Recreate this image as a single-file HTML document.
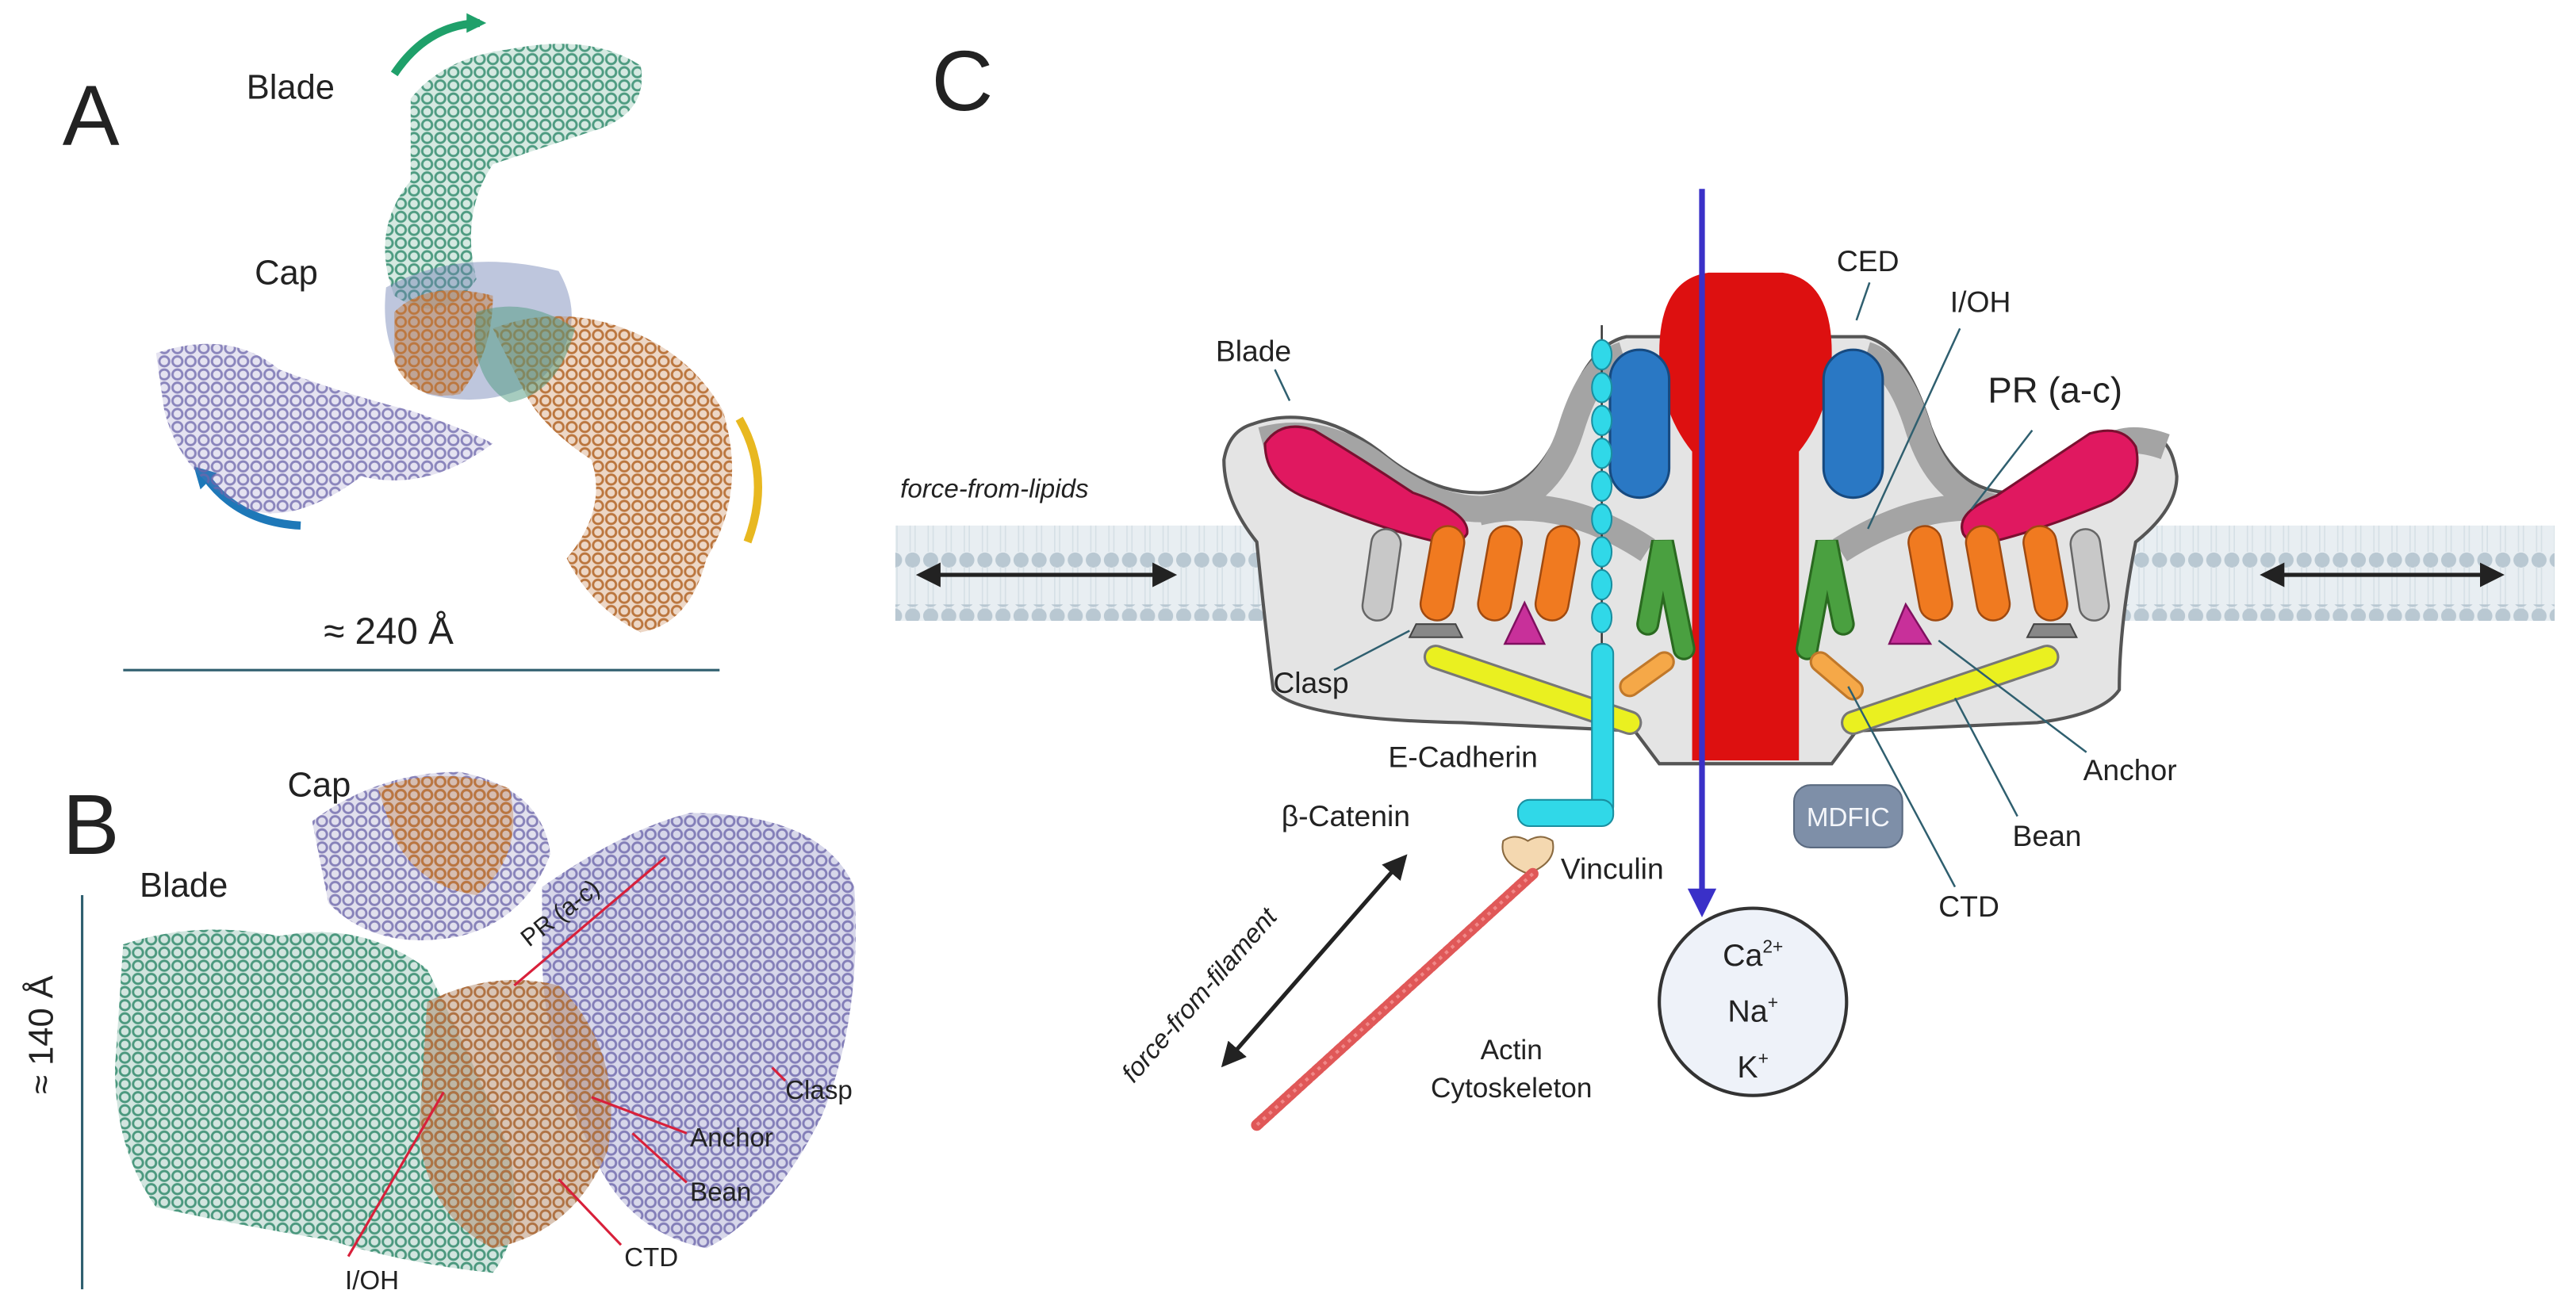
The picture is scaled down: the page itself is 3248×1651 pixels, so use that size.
<!DOCTYPE html>
<html><head><meta charset="utf-8"><style>
html,body{margin:0;padding:0;background:#fff;}
svg{display:block;}
text{font-family:"Liberation Sans",sans-serif;fill:#222;}
</style></head><body>
<svg width="3248" height="1651" viewBox="0 0 1568 797" preserveAspectRatio="none" xmlns="http://www.w3.org/2000/svg">
<defs>
<pattern id="pg" width="8" height="8" patternUnits="userSpaceOnUse"><circle cx="4" cy="4" r="3" fill="none" stroke="#1f7f5f" stroke-width="1.4"/></pattern>
<pattern id="pp" width="8" height="8" patternUnits="userSpaceOnUse"><circle cx="4" cy="4" r="3" fill="none" stroke="#6a63a8" stroke-width="1.4"/></pattern>
<pattern id="po" width="8" height="8" patternUnits="userSpaceOnUse"><circle cx="4" cy="4" r="3" fill="none" stroke="#a8520f" stroke-width="1.4"/></pattern>
<pattern id="mem" width="11" height="48" patternUnits="userSpaceOnUse"><circle cx="5.5" cy="5" r="4.6" fill="#b9c8d2"/><line x1="4" y1="9" x2="4" y2="48" stroke="#d6e0e6" stroke-width="0.8"/><line x1="7" y1="9" x2="7" y2="48" stroke="#d6e0e6" stroke-width="0.8"/></pattern>
<pattern id="mem2" width="11" height="10" patternUnits="userSpaceOnUse"><circle cx="5.5" cy="5" r="4.6" fill="#b9c8d2"/></pattern>
<marker id="ah" markerWidth="6" markerHeight="6" refX="5" refY="3" orient="auto-start-reverse" markerUnits="strokeWidth"><path d="M0,0 L6,3 L0,6 Z" fill="#222"/></marker>
<marker id="ab" markerWidth="5" markerHeight="5" refX="4" refY="2.5" orient="auto" markerUnits="strokeWidth"><path d="M0,0 L5,2.5 L0,5 Z" fill="#3a30c8"/></marker>
</defs>

<!-- PANEL A -->
<text x="38" y="88" font-size="52">A</text>
<text x="150" y="60" font-size="21">Blade</text>
<text x="155" y="173" font-size="21">Cap</text>
<path d="M240,45 Q260,15 292,14" fill="none" stroke="#1fa06a" stroke-width="5"/>
<path d="M284,8 L296,14 L284,20Z" fill="#1fa06a"/>
<path d="M183,320 Q145,318 125,290" fill="none" stroke="#1e78b8" stroke-width="5"/>
<path d="M118,284 L122,298 L132,288Z" fill="#1e78b8"/>
<path d="M450,255 Q470,290 455,330" fill="none" stroke="#e8b820" stroke-width="5"/>
<g opacity="0.8">
<path d="M250,60 Q270,35 310,30 Q360,20 390,40 Q395,70 360,80 Q330,90 300,100 Q280,130 290,170 Q270,200 240,180 Q225,140 250,110Z" fill="url(#pg)"/>
<path d="M250,60 Q270,35 310,30 Q360,20 390,40 Q395,70 360,80 Q330,90 300,100 Q280,130 290,170 Q270,200 240,180 Q225,140 250,110Z" fill="#2a8f6c" opacity="0.25"/>
<path d="M95,215 Q140,200 170,225 Q210,240 250,250 Q280,260 300,270 Q260,300 220,290 Q180,320 150,310 Q110,290 100,250Z" fill="url(#pp)"/>
<path d="M95,215 Q140,200 170,225 Q210,240 250,250 Q280,260 300,270 Q260,300 220,290 Q180,320 150,310 Q110,290 100,250Z" fill="#7a73b8" opacity="0.25"/>
<path d="M235,175 Q280,150 340,165 Q360,200 330,230 Q300,250 260,240 Q230,220 235,175Z" fill="#4c62a0" opacity="0.45"/>
<path d="M240,190 Q260,170 300,180 Q300,215 280,240 Q250,245 240,220Z" fill="url(#po)"/>
<path d="M240,190 Q260,170 300,180 Q300,215 280,240 Q250,245 240,220Z" fill="#b25a12" opacity="0.45"/>
<path d="M300,200 Q340,185 380,200 Q420,215 440,250 Q455,300 430,340 Q420,380 390,385 Q360,370 345,340 Q370,310 360,280 Q330,260 320,240Z" fill="url(#po)"/>
<path d="M300,200 Q340,185 380,200 Q420,215 440,250 Q455,300 430,340 Q420,380 390,385 Q360,370 345,340 Q370,310 360,280 Q330,260 320,240Z" fill="#b25a12" opacity="0.3"/>
<path d="M290,190 Q320,180 350,200 Q340,240 310,245 Q285,230 290,190Z" fill="#1f7f5f" opacity="0.5"/>
</g>
<text x="197" y="392" font-size="23">≈ 240 Å</text>
<line x1="75" y1="408" x2="438" y2="408" stroke="#2f5f6f" stroke-width="1.5"/>

<!-- PANEL B -->
<text x="38" y="520" font-size="52">B</text>
<text x="175" y="485" font-size="21">Cap</text>
<text x="85" y="546" font-size="21">Blade</text>
<text transform="translate(32,630) rotate(-90)" font-size="21" text-anchor="middle">≈ 140 Å</text>
<line x1="50" y1="545" x2="50" y2="785" stroke="#2f5f6f" stroke-width="1.5"/>
<g opacity="0.8">
<path d="M190,500 Q230,470 280,470 Q330,480 335,520 Q320,560 280,570 Q230,580 200,550Z" fill="url(#pp)"/>
<path d="M190,500 Q230,470 280,470 Q330,480 335,520 Q320,560 280,570 Q230,580 200,550Z" fill="#6a63a8" opacity="0.25"/>
<path d="M230,480 Q270,465 310,480 Q320,520 290,545 Q255,540 240,510Z" fill="url(#po)"/>
<path d="M230,480 Q270,465 310,480 Q320,520 290,545 Q255,540 240,510Z" fill="#b25a12" opacity="0.35"/>
<path d="M75,575 Q120,560 170,570 Q220,560 260,590 Q290,650 310,700 Q320,750 300,775 Q250,770 200,755 Q140,745 95,735 Q70,700 70,650Z" fill="url(#pg)"/>
<path d="M75,575 Q120,560 170,570 Q220,560 260,590 Q290,650 310,700 Q320,750 300,775 Q250,770 200,755 Q140,745 95,735 Q70,700 70,650Z" fill="#1f7f5f" opacity="0.25"/>
<path d="M330,540 Q380,505 420,495 Q500,495 520,540 Q525,620 500,680 Q470,740 430,760 Q380,750 360,700 Q330,640 330,580Z" fill="url(#pp)"/>
<path d="M330,540 Q380,505 420,495 Q500,495 520,540 Q525,620 500,680 Q470,740 430,760 Q380,750 360,700 Q330,640 330,580Z" fill="#5a56a4" opacity="0.3"/>
<path d="M260,610 Q300,590 340,600 Q380,640 370,700 Q350,750 300,760 Q260,740 255,690Z" fill="url(#po)"/>
<path d="M260,610 Q300,590 340,600 Q380,640 370,700 Q350,750 300,760 Q260,740 255,690Z" fill="#8a4a1e" opacity="0.4"/>
</g>
<g stroke="#d8203a" stroke-width="1.5" fill="none">
<line x1="313" y1="600" x2="405" y2="522"/>
<line x1="470" y1="650" x2="478" y2="658"/>
<line x1="360" y1="668" x2="418" y2="690"/>
<line x1="385" y1="690" x2="418" y2="720"/>
<line x1="340" y1="718" x2="378" y2="758"/>
<line x1="270" y1="665" x2="212" y2="765"/>
</g>
<text transform="translate(322,577) rotate(-38)" font-size="15">PR (a-c)</text>
<text x="478" y="669" font-size="16">Clasp</text>
<text x="420" y="698" font-size="16">Anchor</text>
<text x="420" y="731" font-size="16">Bean</text>
<text x="380" y="771" font-size="16">CTD</text>
<text x="210" y="785" font-size="16">I/OH</text>

<!-- PANEL C -->
<text x="567" y="67" font-size="52">C</text>
<rect x="545" y="320" width="1010" height="58" fill="#e8eef2"/>
<rect x="545" y="320" width="1010" height="58" fill="url(#mem)"/>
<rect x="545" y="368" width="1010" height="10" fill="url(#mem2)"/>
<!-- body -->
<path d="M763,258 Q800,245 840,275 Q870,300 900,300 Q935,300 950,260 Q965,210 990,205 L1135,205 Q1160,210 1175,260 Q1190,300 1225,300 Q1255,300 1285,275 Q1320,250 1325,290 Q1325,310 1300,330 Q1290,380 1290,420 Q1280,435 1240,440 L1130,445 L1115,465 L1010,465 L995,445 L890,440 Q790,438 775,420 Q770,380 765,330 Q745,305 745,280 Q748,262 763,258Z" fill="#e4e4e4" stroke="#555" stroke-width="2"/>
<!-- dark shell bands -->
<g fill="none" stroke="#a4a4a4" stroke-width="16" stroke-linejoin="round">
<path d="M768,268 Q805,258 840,285 Q872,310 902,310 Q942,306 956,262 Q968,222 988,216"/>
<path d="M1318,272 Q1290,262 1278,278 Q1250,306 1222,310 Q1182,306 1168,262 Q1156,222 1136,216"/>
<path d="M900,312 Q950,300 1003,335"/>
<path d="M1225,312 Q1175,300 1120,335"/>
</g>
<!-- red channel -->
<path d="M1010,215 Q1010,170 1040,166 L1085,166 Q1115,170 1115,215 Q1115,250 1095,275 L1095,463 L1030,463 L1030,275 Q1010,250 1010,215Z" fill="#dd1010"/>
<rect x="980" y="213" width="36" height="90" rx="18" fill="#2a78c4" stroke="#174a80" stroke-width="1.5"/>
<rect x="1110" y="213" width="36" height="90" rx="18" fill="#2a78c4" stroke="#174a80" stroke-width="1.5"/>
<path d="M770,270 Q780,255 800,262 Q830,280 860,300 Q895,312 893,325 Q888,333 875,330 Q840,322 800,305 Q770,295 770,270Z" fill="#e01860" stroke="#7a1030" stroke-width="1.5"/>
<path d="M1300,272 Q1292,258 1272,264 Q1245,282 1215,302 Q1190,312 1195,325 Q1200,333 1212,330 Q1245,322 1285,305 Q1305,293 1300,272Z" fill="#e01860" stroke="#7a1030" stroke-width="1.5"/>
<rect x="832" y="322" width="18" height="56" rx="9" fill="#c8c8c8" stroke="#666" stroke-width="1.2" transform="rotate(8 841 350)"/>
<rect x="1263" y="322" width="18" height="56" rx="9" fill="#c8c8c8" stroke="#666" stroke-width="1.2" transform="rotate(-8 1272 350)"/>
<g fill="#f07a20" stroke="#a04a10" stroke-width="1.2">
<rect x="868" y="320" width="20" height="58" rx="10" transform="rotate(10 878 349)"/>
<rect x="903" y="320" width="20" height="58" rx="10" transform="rotate(10 913 349)"/>
<rect x="938" y="320" width="20" height="58" rx="10" transform="rotate(10 948 349)"/>
<rect x="1165" y="320" width="20" height="58" rx="10" transform="rotate(-10 1175 349)"/>
<rect x="1200" y="320" width="20" height="58" rx="10" transform="rotate(-10 1210 349)"/>
<rect x="1235" y="320" width="20" height="58" rx="10" transform="rotate(-10 1245 349)"/>
</g>
<g stroke="#2a6a20" stroke-width="14" stroke-linecap="round" fill="none">
<path d="M1003,380 L1012,330 L1025,395"/>
<path d="M1122,380 L1112,330 L1100,395"/>
</g>
<g stroke="#4aa040" stroke-width="11" stroke-linecap="round" fill="none">
<path d="M1003,380 L1012,330 L1025,395"/>
<path d="M1122,380 L1112,330 L1100,395"/>
</g>
<path d="M928,367 L940,392 L916,392Z" fill="#c8309a" stroke="#801060" stroke-width="1.2"/>
<path d="M1160,368 L1175,392 L1150,392Z" fill="#c8309a" stroke="#801060" stroke-width="1.2"/>
<path d="M862,380 L886,380 L890,388 L858,388Z" fill="#888" stroke="#444"/>
<path d="M1238,380 L1260,380 L1264,388 L1234,388Z" fill="#888" stroke="#444"/>
<line x1="874" y1="400" x2="992" y2="440" stroke="#777" stroke-width="15" stroke-linecap="round"/>
<line x1="874" y1="400" x2="992" y2="440" stroke="#eaf020" stroke-width="12" stroke-linecap="round"/>
<line x1="1128" y1="440" x2="1246" y2="400" stroke="#777" stroke-width="15" stroke-linecap="round"/>
<line x1="1128" y1="440" x2="1246" y2="400" stroke="#eaf020" stroke-width="12" stroke-linecap="round"/>
<line x1="992" y1="418" x2="1013" y2="403" stroke="#c0782a" stroke-width="13" stroke-linecap="round"/>
<line x1="992" y1="418" x2="1013" y2="403" stroke="#f5a848" stroke-width="10" stroke-linecap="round"/>
<line x1="1108" y1="403" x2="1128" y2="420" stroke="#c0782a" stroke-width="13" stroke-linecap="round"/>
<line x1="1108" y1="403" x2="1128" y2="420" stroke="#f5a848" stroke-width="10" stroke-linecap="round"/>
<line x1="975" y1="198" x2="975" y2="395" stroke="#333" stroke-width="1.2"/>
<g fill="#30d8e8" stroke="#1a8fa0" stroke-width="1">
<ellipse cx="975" cy="216" rx="6" ry="9"/><ellipse cx="975" cy="236" rx="6" ry="9"/><ellipse cx="975" cy="256" rx="6" ry="9"/><ellipse cx="975" cy="276" rx="6" ry="9"/><ellipse cx="975" cy="296" rx="6" ry="9"/><ellipse cx="975" cy="316" rx="6" ry="9"/><ellipse cx="975" cy="336" rx="6" ry="9"/><ellipse cx="975" cy="356" rx="6" ry="9"/><ellipse cx="975" cy="376" rx="6" ry="9"/>
<rect x="969" y="392" width="13" height="105" rx="6"/>
<rect x="924" y="487" width="58" height="16" rx="7"/>
</g>
<path d="M915,512 Q922,507 930,512 Q938,507 945,512 Q948,525 930,532 Q912,525 915,512Z" fill="#f4d8b0" stroke="#8a6a40" stroke-width="1"/>
<line x1="933" y1="532" x2="765" y2="685" stroke="#e05858" stroke-width="7" stroke-linecap="round" stroke-dasharray="3 1.5"/>
<line x1="933" y1="532" x2="765" y2="685" stroke="#f08888" stroke-width="2" stroke-dasharray="2 3"/>
<line x1="1036" y1="115" x2="1036" y2="555" stroke="#3a30c8" stroke-width="3.5" marker-end="url(#ab)"/>
<rect x="1092" y="478" width="66" height="38" rx="10" fill="#7e8fa8" stroke="#5a6a80"/>
<text x="1125" y="503" font-size="16" text-anchor="middle" style="fill:#f4f6fa">MDFIC</text>
<circle cx="1067" cy="610" r="57" fill="#eef2f9" stroke="#333" stroke-width="2"/>
<text x="1067" y="588" font-size="19" text-anchor="middle">Ca<tspan font-size="11" dy="-8">2+</tspan></text>
<text x="1067" y="622" font-size="19" text-anchor="middle">Na<tspan font-size="11" dy="-8">+</tspan></text>
<text x="1067" y="656" font-size="19" text-anchor="middle">K<tspan font-size="11" dy="-8">+</tspan></text>
<line x1="560" y1="350" x2="714" y2="350" stroke="#222" stroke-width="2.5" marker-start="url(#ah)" marker-end="url(#ah)"/>
<line x1="1378" y1="350" x2="1522" y2="350" stroke="#222" stroke-width="2.5" marker-start="url(#ah)" marker-end="url(#ah)"/>
<line x1="855" y1="522" x2="745" y2="648" stroke="#222" stroke-width="2.5" marker-start="url(#ah)" marker-end="url(#ah)"/>
<g stroke="#2f5f6f" stroke-width="1.2" fill="none">
<line x1="1138" y1="172" x2="1130" y2="195"/>
<line x1="1193" y1="200" x2="1137" y2="322"/>
<line x1="1237" y1="262" x2="1200" y2="310"/>
<line x1="776" y1="225" x2="785" y2="244"/>
<line x1="812" y1="408" x2="858" y2="384"/>
<line x1="1270" y1="458" x2="1180" y2="390"/>
<line x1="1228" y1="497" x2="1190" y2="425"/>
<line x1="1190" y1="540" x2="1125" y2="418"/>
</g>
<text x="1118" y="165" font-size="18">CED</text>
<text x="1187" y="190" font-size="18">I/OH</text>
<text x="1210" y="245" font-size="22">PR (a-c)</text>
<text x="740" y="220" font-size="18">Blade</text>
<text x="548" y="303" font-size="16" font-style="italic">force-from-lipids</text>
<text x="775" y="422" font-size="18">Clasp</text>
<text x="845" y="467" font-size="18">E-Cadherin</text>
<text x="780" y="503" font-size="18">β-Catenin</text>
<text x="950" y="535" font-size="18">Vinculin</text>
<text x="1268" y="475" font-size="18">Anchor</text>
<text x="1225" y="515" font-size="18">Bean</text>
<text x="1180" y="558" font-size="18">CTD</text>
<text x="920" y="645" font-size="17" text-anchor="middle">Actin</text>
<text x="920" y="668" font-size="17" text-anchor="middle">Cytoskeleton</text>
<text transform="translate(690,660) rotate(-49)" font-size="16" font-style="italic">force-from-filament</text>
</svg>
</body></html>
